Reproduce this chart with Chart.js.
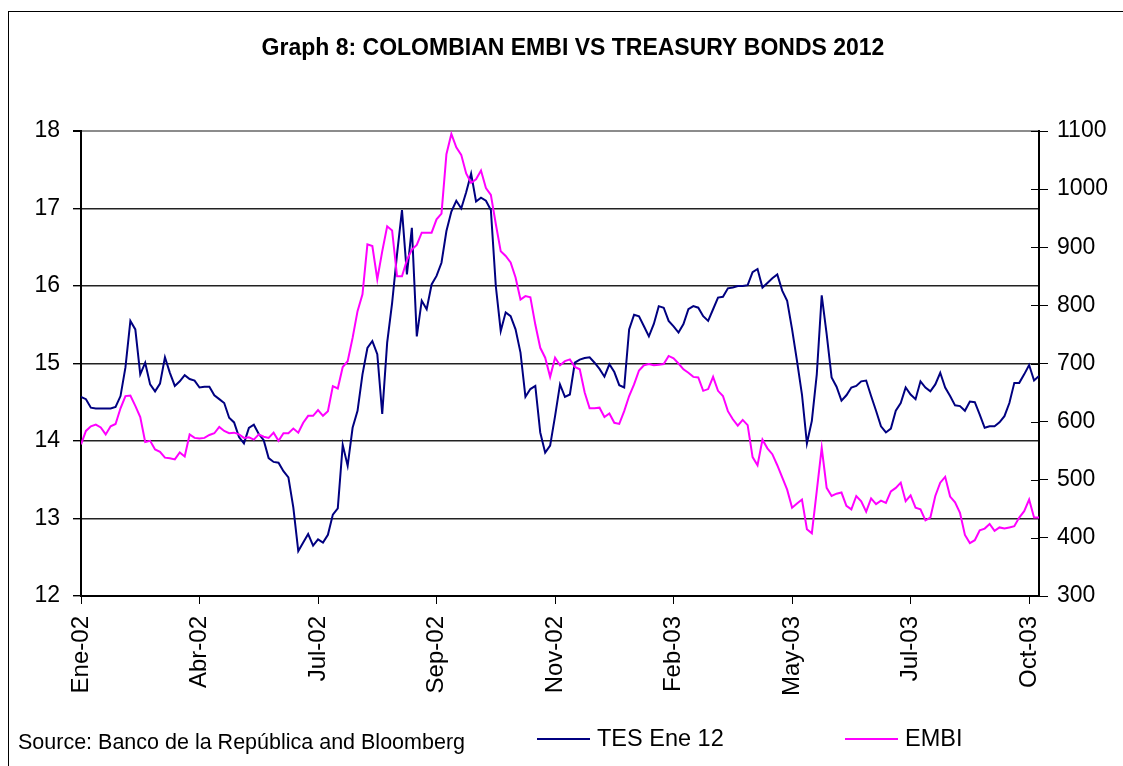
<!DOCTYPE html>
<html>
<head>
<meta charset="utf-8">
<title>Graph 8: Colombian EMBI vs Treasury Bonds 2012</title>
<script src="https://cdn.jsdelivr.net/npm/chart.js@4.4.0/dist/chart.umd.min.js"></script>
<style>
  html, body { margin: 0; padding: 0; background: #fff; overflow: hidden; }
  #frame { position: absolute; left: 8px; top: 11px; width: 1140px; height: 780px; border: 1px solid #000; }
  #wrap { position: absolute; left: 0; top: 0; width: 1128px; height: 754px; }
</style>
</head>
<body>
<div id="frame"><div id="wrap"><canvas id="chart"></canvas></div></div>
<script>
// Axis labels: one every POINTS_PER_TICK observations
var tickLabels = ["Ene-02", "Abr-02", "Jul-02", "Sep-02", "Nov-02", "Feb-03", "May-03", "Jul-03", "Oct-03"];
var POINTS_PER_TICK = 24;

// TES Ene 12 yield (%), left axis
var tes = [
  14.57, 14.54, 14.43, 14.42, 14.42, 14.42, 14.42, 14.44, 14.58, 14.95,
  15.55, 15.44, 14.86, 15.01, 14.73, 14.64, 14.74, 15.08, 14.88, 14.71,
  14.77, 14.85, 14.80, 14.78, 14.69, 14.70, 14.70, 14.59, 14.54, 14.49,
  14.30, 14.24, 14.05, 13.97, 14.17, 14.21, 14.09, 14.01, 13.78, 13.73,
  13.72, 13.61, 13.53, 13.14, 12.58, 12.69, 12.80, 12.65, 12.73, 12.69,
  12.79, 13.05, 13.13, 13.95, 13.68, 14.17, 14.39, 14.86, 15.20, 15.29,
  15.12, 14.35, 15.27, 15.78, 16.41, 16.98, 16.15, 16.75, 15.35, 15.81,
  15.70, 16.02, 16.13, 16.30, 16.71, 16.96, 17.10, 17.00, 17.21, 17.45,
  17.09, 17.14, 17.10, 16.98, 16.00, 15.42, 15.66, 15.61, 15.44, 15.14,
  14.57, 14.67, 14.71, 14.11, 13.85, 13.94, 14.32, 14.73, 14.57, 14.60,
  15.01, 15.05, 15.07, 15.08, 15.01, 14.93, 14.83, 14.99, 14.89, 14.72,
  14.69, 15.44, 15.63, 15.61, 15.48, 15.35, 15.51, 15.74, 15.72, 15.55,
  15.48, 15.40, 15.51, 15.70, 15.74, 15.72, 15.61, 15.55, 15.70, 15.85,
  15.86, 15.97, 15.98, 16.00, 16.00, 16.01, 16.18, 16.22, 15.98, 16.04,
  16.10, 16.15, 15.94, 15.81, 15.44, 15.03, 14.60, 13.97, 14.26, 14.86,
  15.88, 15.38, 14.82, 14.70, 14.52, 14.59, 14.69, 14.71, 14.77, 14.78,
  14.58, 14.39, 14.19, 14.11, 14.16, 14.39, 14.49, 14.69, 14.60, 14.54,
  14.77, 14.69, 14.64, 14.73, 14.88, 14.69, 14.58, 14.46, 14.45, 14.39,
  14.51, 14.50, 14.34, 14.17, 14.19, 14.19, 14.24, 14.32, 14.49, 14.75,
  14.75, 14.86, 14.98, 14.78, 14.84
];

// Colombian EMBI spread (bp), right axis
var embi = [
  561, 584, 592, 595, 590, 578, 592, 596, 623, 644,
  645, 627, 608, 565, 567, 552, 548, 538, 537, 535,
  547, 540, 578, 572, 571, 572, 577, 580, 591, 584,
  580, 581, 578, 572, 573, 569, 578, 574, 572, 581,
  567, 580, 580, 588, 581, 598, 610, 610, 620, 610,
  618, 661, 657, 694, 704, 744, 790, 819, 905, 902,
  845, 893, 936, 929, 850, 850, 878, 896, 904, 925,
  925, 925, 948, 958, 1060, 1095, 1072, 1059, 1027, 1011,
  1017, 1032, 1002, 990, 940, 893, 885, 874, 848, 810,
  816, 814, 767, 727, 710, 677, 710, 697, 704, 707,
  694, 690, 650, 623, 623, 624, 608, 614, 598, 596,
  618, 644, 664, 688, 697, 699, 697, 698, 699, 713,
  709, 700, 690, 684, 677, 676, 653, 656, 677, 653,
  644, 618, 604, 593, 603, 594, 539, 525, 569, 554,
  544, 525, 504, 483, 452, 459, 466, 415, 408, 481,
  555, 486, 472, 476, 478, 455, 449, 472, 463, 445,
  468, 458, 464, 460, 480, 486, 495, 463, 473, 452,
  449, 430, 435, 472, 495, 505, 471, 461, 443, 405,
  391, 396, 413, 416, 424, 412, 418, 416, 418, 420,
  435, 446, 466, 435, 435
];

var sourceText = "Source: Banco de la República and Bloomberg";

var FONT = "'Liberation Sans', Arial, Helvetica, sans-serif";
var NAVY = "#000080", MAGENTA = "#FF00FF";

Chart.defaults.font.family = FONT;
Chart.defaults.color = "#000";

// Source note, legend keys and the inner half of the right-axis ticks
var footer = {
  id: "footer",
  afterDraw: function (chart) {
    var ctx = chart.ctx, area = chart.chartArea;
    ctx.save();

    var right = chart.scales.y1;
    ctx.strokeStyle = "#000";
    ctx.lineWidth = 1;
    right.ticks.forEach(function (t) {
      var y = Math.round(right.getPixelForValue(t.value)) + 0.5;
      ctx.beginPath();
      ctx.moveTo(area.right - 8, y);
      ctx.lineTo(area.right, y);
      ctx.stroke();
    });

    ctx.fillStyle = "#000";
    ctx.textBaseline = "middle";
    ctx.font = "21.5px " + FONT;
    ctx.fillText(sourceText, 9, 731);

    var keyX = [528, 836];
    chart.data.datasets.forEach(function (ds, i) {
      ctx.strokeStyle = ds.borderColor;
      ctx.lineWidth = 2;
      ctx.beginPath();
      ctx.moveTo(keyX[i], 727);
      ctx.lineTo(keyX[i] + 53, 727);
      ctx.stroke();
      ctx.font = "23.5px " + FONT;
      ctx.fillText(ds.label, keyX[i] + 60, 728);
    });
    ctx.restore();
  }
};

new Chart(document.getElementById("chart"), {
  type: "line",
  data: {
    labels: tes.map(function (_, i) { return i; }),
    datasets: [
      { label: "TES Ene 12", data: tes, yAxisID: "y", borderColor: NAVY, borderWidth: 2,
        pointRadius: 0, tension: 0, order: 1 },
      { label: "EMBI", data: embi, yAxisID: "y1", borderColor: MAGENTA, borderWidth: 2,
        pointRadius: 0, tension: 0, order: 0 }
    ]
  },
  options: {
    responsive: true,
    maintainAspectRatio: false,
    animation: false,
    layout: { padding: 0 },
    plugins: {
      legend: { display: false },
      tooltip: { enabled: false },
      title: {
        display: true,
        text: "Graph 8: COLOMBIAN EMBI VS TREASURY BONDS 2012",
        color: "#000",
        font: { size: 23, weight: "bold" },
        padding: { top: 23, bottom: 68.4 }
      }
    },
    scales: {
      x: {
        type: "linear",
        min: 0,
        max: tes.length - 1,
        afterBuildTicks: function (scale) {
          scale.ticks = tickLabels.map(function (_, j) { return { value: j * POINTS_PER_TICK }; });
        },
        afterFit: function (scale) { scale.height = 170; },
        grid: { drawOnChartArea: false, color: "#000", tickLength: 8 },
        border: { color: "#000", width: 2 },
        ticks: {
          autoSkip: false,
          minRotation: 90,
          maxRotation: 90,
          padding: 12,
          font: { size: 24 },
          callback: function (v) { return tickLabels[v / POINTS_PER_TICK]; }
        }
      },
      y: {
        position: "left",
        min: 12,
        max: 18,
        afterFit: function (scale) { scale.width = 72; },
        ticks: { stepSize: 1, padding: 13, font: { size: 23 } },
        grid: {
          color: function (c) { return c.tick && c.tick.value === 18 ? "#8c8c8c" : "#222"; },
          lineWidth: function (c) { return c.tick && c.tick.value === 18 ? 2 : 1.4; },
          tickColor: "#000",
          tickLength: 8
        },
        border: { color: "#000", width: 2 }
      },
      y1: {
        position: "right",
        min: 300,
        max: 1100,
        afterFit: function (scale) { scale.width = 98; },
        ticks: {
          stepSize: 100,
          padding: 9,
          font: { size: 23 },
          callback: function (v) { return String(v); }
        },
        grid: { drawOnChartArea: false, color: "#000", tickLength: 9 },
        border: { color: "#000", width: 2 }
      }
    }
  },
  plugins: [footer]
});
</script>
</body>
</html>
